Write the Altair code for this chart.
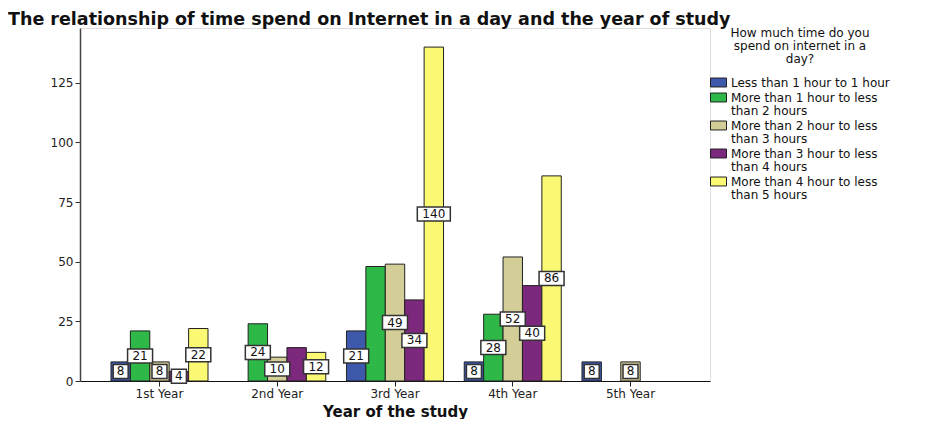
import altair as alt
import pandas as pd

years = ["1st Year", "2nd Year", "3rd Year", "4th Year", "5th Year"]
cats = [
    "Less than 1 hour to 1 hour",
    "More than 1 hour to less than 2 hours",
    "More than 2 hour to less than 3 hours",
    "More than 3 hour to less than 4 hours",
    "More than 4 hour to less than 5 hours",
]
colors = ["#3E58AC", "#2EB848", "#D3CE97", "#7C287D", "#FBF873"]

# counts per year (0 = no bar)
v_lt1 = [8, 0, 21, 8, 8]
v_1to2 = [21, 24, 48, 28, 0]
v_2to3 = [8, 10, 49, 52, 8]
v_3to4 = [4, 14, 34, 40, 0]
v_4to5 = [22, 12, 140, 86, 0]
# whether the value label is shown in the original
s_lt1 = [1, 0, 1, 1, 1]
s_1to2 = [1, 1, 0, 1, 0]
s_2to3 = [1, 1, 1, 1, 1]
s_3to4 = [1, 0, 1, 1, 0]
s_4to5 = [1, 1, 1, 1, 0]

series = [v_lt1, v_1to2, v_2to3, v_3to4, v_4to5]
shows = [s_lt1, s_1to2, s_2to3, s_3to4, s_4to5]

rows = []
for j, c in enumerate(cats):
    for i, y in enumerate(years):
        v = series[j][i]
        if v > 0:
            rows.append({"year": y, "cat": c, "value": v, "show": shows[j][i]})
df = pd.DataFrame(rows)

FONT = "DejaVu Sans"

x_enc = alt.X(
    "year:N",
    scale=alt.Scale(domain=years, paddingInner=0.176, paddingOuter=0.263),
    axis=alt.Axis(
        title="Year of the study", labelAngle=0, labelFont=FONT, labelFontSize=12,
        labelColor="#222", tickSize=5, tickColor="#222", domainColor="#111",
        domainWidth=1.2, labelPadding=2, titleFont=FONT, titleFontSize=15,
        titleFontWeight="bold", titleColor="#111", titlePadding=5,
    ),
)
xo_enc = alt.XOffset("cat:N", scale=alt.Scale(domain=cats))

base = alt.Chart(df).encode(x=x_enc, xOffset=xo_enc)

bars = base.mark_bar(stroke="#222", strokeWidth=1).encode(
    y=alt.Y(
        "value:Q",
        scale=alt.Scale(domain=[0, 148], nice=False),
        axis=alt.Axis(
            title=None, values=[0, 25, 50, 75, 100, 125], grid=False, tickSize=5,
            tickColor="#333", domainColor="#444", domainWidth=1.5,
            labelFont=FONT, labelFontSize=12, labelColor="#222", minExtent=72,
        ),
    ),
    color=alt.Color(
        "cat:N",
        scale=alt.Scale(domain=cats, range=colors),
        legend=alt.Legend(
            title=["How much time do you", "spend on internet in a", "day?"],
            titleAlign="center", titleAnchor="middle", titleFont=FONT,
            titleFontSize=12, titleFontWeight="normal", titleLineHeight=13,
            titleColor="#111", titleLimit=240, titlePadding=8,
            labelFont=FONT, labelFontSize=12, labelColor="#111", labelLimit=205,
            labelExpr="length(datum.label) > 30 ? [substring(datum.label, 0, 24), substring(datum.label, 25)] : datum.label",
            symbolType="M-1,-0.56H1V0.56H-1Z", symbolSize=256,
            symbolStrokeColor="#222", symbolStrokeWidth=1, offset=0, padding=0,
            rowPadding=0, labelOffset=4,
        ),
    ),
)

lab = base.transform_filter("datum.show == 1").transform_calculate(
    mid="datum.value / 2",
    box="length(toString(datum.value)) == 1 ? 'M-0.4545,-0.4242H0.4545V0.4242H-0.4545Z' : (length(toString(datum.value)) == 2 ? 'M-0.7576,-0.4242H0.7576V0.4242H-0.7576Z' : 'M-1,-0.4242H1V0.4242H-1Z')",
)

boxes = lab.mark_point(
    filled=True, fill="white", stroke="#333", strokeWidth=1.5, opacity=1, size=1089
).encode(y=alt.Y("mid:Q"), shape=alt.Shape("box:N", scale=None))

texts = lab.mark_text(font=FONT, fontSize=12, color="#111", baseline="middle").encode(
    y=alt.Y("mid:Q"), text="value:Q"
)

chart = (
    alt.layer(bars, boxes, texts)
    .properties(
        width=630,
        height=353,
        title=alt.Title(
            text="The relationship of time spend on Internet in a day and the year of study",
            anchor="start", frame="bounds", font=FONT, fontSize=17.5,
            fontWeight="bold", color="#111", offset=0,
        ),
        padding={"left": 0, "top": 2, "right": 0, "bottom": 0},
    )
    .configure_view(fill="#F0F0F0", stroke="#888", strokeWidth=1.5)
    .configure(style={"guide-label": {"lineHeight": 13}})
)

chart.save("out.html", embed_options={"renderer": "svg", "actions": False})
